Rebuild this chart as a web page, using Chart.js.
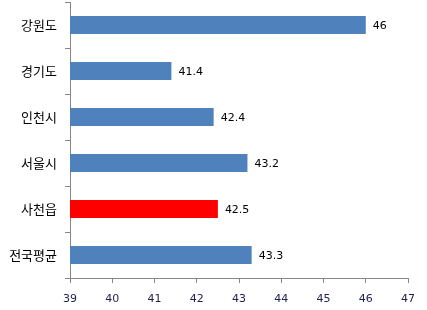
<!DOCTYPE html>
<html>
<head>
<meta charset="utf-8">
<script src="https://cdn.jsdelivr.net/npm/chart.js@4/dist/chart.umd.min.js"></script>
<style>
  html, body { margin: 0; padding: 0; background: #fff; }
  #wrap { width: 427px; height: 310px; }
</style>
</head>
<body>
<div id="wrap"><canvas id="chart"></canvas></div>
<script>
const regions = ["강원도", "경기도", "인천시", "서울시", "사천읍", "전국평균"];
const values = [46, 41.4, 42.4, 43.2, 42.5, 43.3];
const barColors = ["#4f81bd", "#4f81bd", "#4f81bd", "#4f81bd", "#ff0000", "#4f81bd"];
const xTicks = [39, 40, 41, 42, 43, 44, 45, 46, 47];

// value labels at the end of each bar
const valueLabels = {
    id: "valueLabels",
    afterDatasetsDraw(chart) {
        const ctx = chart.ctx;
        const meta = chart.getDatasetMeta(0);
        ctx.save();
        ctx.font = "11px 'DejaVu Sans', sans-serif";
        ctx.fillStyle = "#000000";
        ctx.textBaseline = "middle";
        meta.data.forEach((bar, i) => {
            ctx.fillText(String(values[i]), bar.x + 7, bar.y + 1);
        });
        ctx.restore();
    }
};

new Chart(document.getElementById("chart").getContext("2d"), {
    type: "bar",
    data: {
        labels: regions,
        datasets: [{
            data: values,
            backgroundColor: barColors,
            borderWidth: 0,
            barPercentage: 0.39,
            categoryPercentage: 1
        }]
    },
    options: {
        indexAxis: "y",
        responsive: true,
        maintainAspectRatio: false,
        animation: false,
        layout: { padding: { top: 2, right: 19, left: 0, bottom: 0 } },
        plugins: {
            legend: { display: false },
            tooltip: { enabled: false }
        },
        scales: {
            x: {
                min: xTicks[0],
                max: xTicks[xTicks.length - 1],
                afterBuildTicks: scale => { scale.ticks = xTicks.map(v => ({ value: v })); },
                afterFit: scale => { scale.height = 32; },
                grid: { drawOnChartArea: false, color: "#868686", tickLength: 5 },
                border: { color: "#868686" },
                ticks: {
                    color: "#1f1f4f",
                    font: { family: "'DejaVu Sans', sans-serif", size: 11 },
                    padding: 10,
                    maxRotation: 0
                }
            },
            y: {
                afterFit: scale => {
                    scale.width = 70;
                    scale.paddingTop = 0;
                    scale.paddingBottom = 0;
                },
                grid: { drawOnChartArea: false, color: "#868686", tickLength: 5, offset: true },
                border: { color: "#868686" },
                ticks: {
                    color: "#000000",
                    font: { family: "'Noto Sans CJK KR', sans-serif", size: 13 },
                    padding: 8
                }
            }
        }
    },
    plugins: [valueLabels]
});
</script>
</body>
</html>
